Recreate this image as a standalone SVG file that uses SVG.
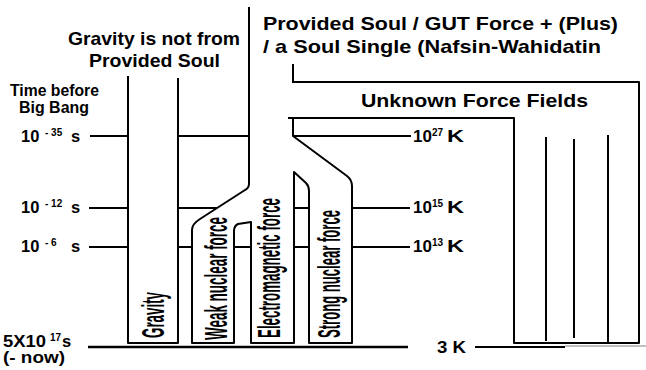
<svg xmlns="http://www.w3.org/2000/svg" width="646" height="370" viewBox="0 0 646 370">
<style>
.ln{fill:none;stroke:#000;stroke-width:2;stroke-linejoin:round}
.t{font-family:"Liberation Sans",Arial,sans-serif;font-weight:bold;fill:#000}
.v{font-family:"Liberation Sans Narrow","Liberation Sans",Arial,sans-serif;font-weight:bold;font-size:31px;fill:#000}
.sup{font-family:"Liberation Sans",Arial,sans-serif;font-weight:bold;font-size:10px;fill:#000}
</style>
<rect width="646" height="370" fill="#fff"/>
<g id="connectors" class="ln">
  <path d="M90,136H128M178,136H249M293,136H411"/>
  <path d="M89,208H128M178,208H217M294,208H309M352,208H410"/>
  <path d="M89,247H128M178,247H192M234,247H251M294,247H309M352,247H410"/>
  <path d="M88,347H408" stroke-width="2.5"/>
  <path d="M475,347H565"/>
  <path d="M565,346H646" stroke="#aaa" stroke-width="1.5"/>
</g>
<g id="gravity" class="ln">
  <path d="M128,76V343H178V78"/>
</g>
<g id="trunk" class="ln">
  <path d="M249,7V184Q249,188 245,190L200,219Q192,224 192,230V343H234V231Q234,226 238,224L251,222V343H294V172L306,183Q309,186 309,191V343H352V186Q352,180 347,176L293,136V119"/>
  <path d="M293,64V83"/>
</g>
<g id="unknown-fields" class="ln">
  <path d="M292,82H639V343H514V118H288"/>
  <path d="M546,137V341M574,139V338M608,135V343"/>
</g>
<g id="labels-top">
  <text class="t" x="68" y="45" font-size="19" textLength="172" lengthAdjust="spacingAndGlyphs">Gravity is not from</text>
  <text class="t" x="89" y="67" font-size="19" textLength="131" lengthAdjust="spacingAndGlyphs">Provided Soul</text>
  <text class="t" x="263" y="30" font-size="19" textLength="355" lengthAdjust="spacingAndGlyphs">Provided Soul  / GUT Force + (Plus)</text>
  <text class="t" x="263" y="53" font-size="19" textLength="338" lengthAdjust="spacingAndGlyphs">/ a Soul Single (Nafsin-Wahidatin</text>
  <text class="t" x="361" y="107" font-size="18.5" textLength="227" lengthAdjust="spacingAndGlyphs">Unknown Force Fields</text>
</g>
<g id="labels-time">
  <text class="t" x="10" y="96" font-size="16.5" textLength="89" lengthAdjust="spacingAndGlyphs">Time before</text>
  <text class="t" x="19" y="113" font-size="16.5" textLength="70" lengthAdjust="spacingAndGlyphs">Big Bang</text>
  <text class="t" x="21" y="142" font-size="16.5">10</text><text class="sup" x="45" y="136">- 35</text><text class="t" x="71" y="142" font-size="16.5">s</text>
  <text class="t" x="21" y="213" font-size="16.5">10</text><text class="sup" x="45" y="207">- 12</text><text class="t" x="71" y="213" font-size="16.5">s</text>
  <text class="t" x="21" y="252" font-size="16.5">10</text><text class="sup" x="45" y="246">- 6</text><text class="t" x="71" y="252" font-size="16.5">s</text>
  <text class="t" x="3" y="347" font-size="16.5" textLength="43" lengthAdjust="spacingAndGlyphs">5X10</text><text class="sup" x="50" y="341">17</text><text class="t" x="62" y="347" font-size="16.5">s</text>
  <text class="t" x="3" y="363" font-size="16" textLength="62" lengthAdjust="spacingAndGlyphs">(- now)</text>
</g>
<g id="labels-temp">
  <text class="t" x="413" y="142" font-size="17">10</text><text class="sup" x="432" y="136" font-size="9">27</text><text class="t" x="447" y="142" font-size="17" textLength="17" lengthAdjust="spacingAndGlyphs">K</text>
  <text class="t" x="413" y="213" font-size="17">10</text><text class="sup" x="432" y="207" font-size="9">15</text><text class="t" x="447" y="213" font-size="17" textLength="17" lengthAdjust="spacingAndGlyphs">K</text>
  <text class="t" x="413" y="252" font-size="17">10</text><text class="sup" x="432" y="246" font-size="9">13</text><text class="t" x="447" y="252" font-size="17" textLength="17" lengthAdjust="spacingAndGlyphs">K</text>
  <text class="t" x="437" y="353" font-size="17" textLength="29" lengthAdjust="spacingAndGlyphs">3 K</text>
</g>
<g id="force-labels">
  <text class="v" transform="translate(164,338) rotate(-90)" textLength="46" lengthAdjust="spacingAndGlyphs">Gravity</text>
  <text class="v" transform="translate(227,340) rotate(-90)" textLength="123" lengthAdjust="spacingAndGlyphs">Weak nuclear force</text>
  <text class="v" transform="translate(280,338) rotate(-90)" textLength="140" lengthAdjust="spacingAndGlyphs">Electromagnetic force</text>
  <text class="v" transform="translate(340,338) rotate(-90)" textLength="128" lengthAdjust="spacingAndGlyphs">Strong nuclear force</text>
</g>
</svg>
